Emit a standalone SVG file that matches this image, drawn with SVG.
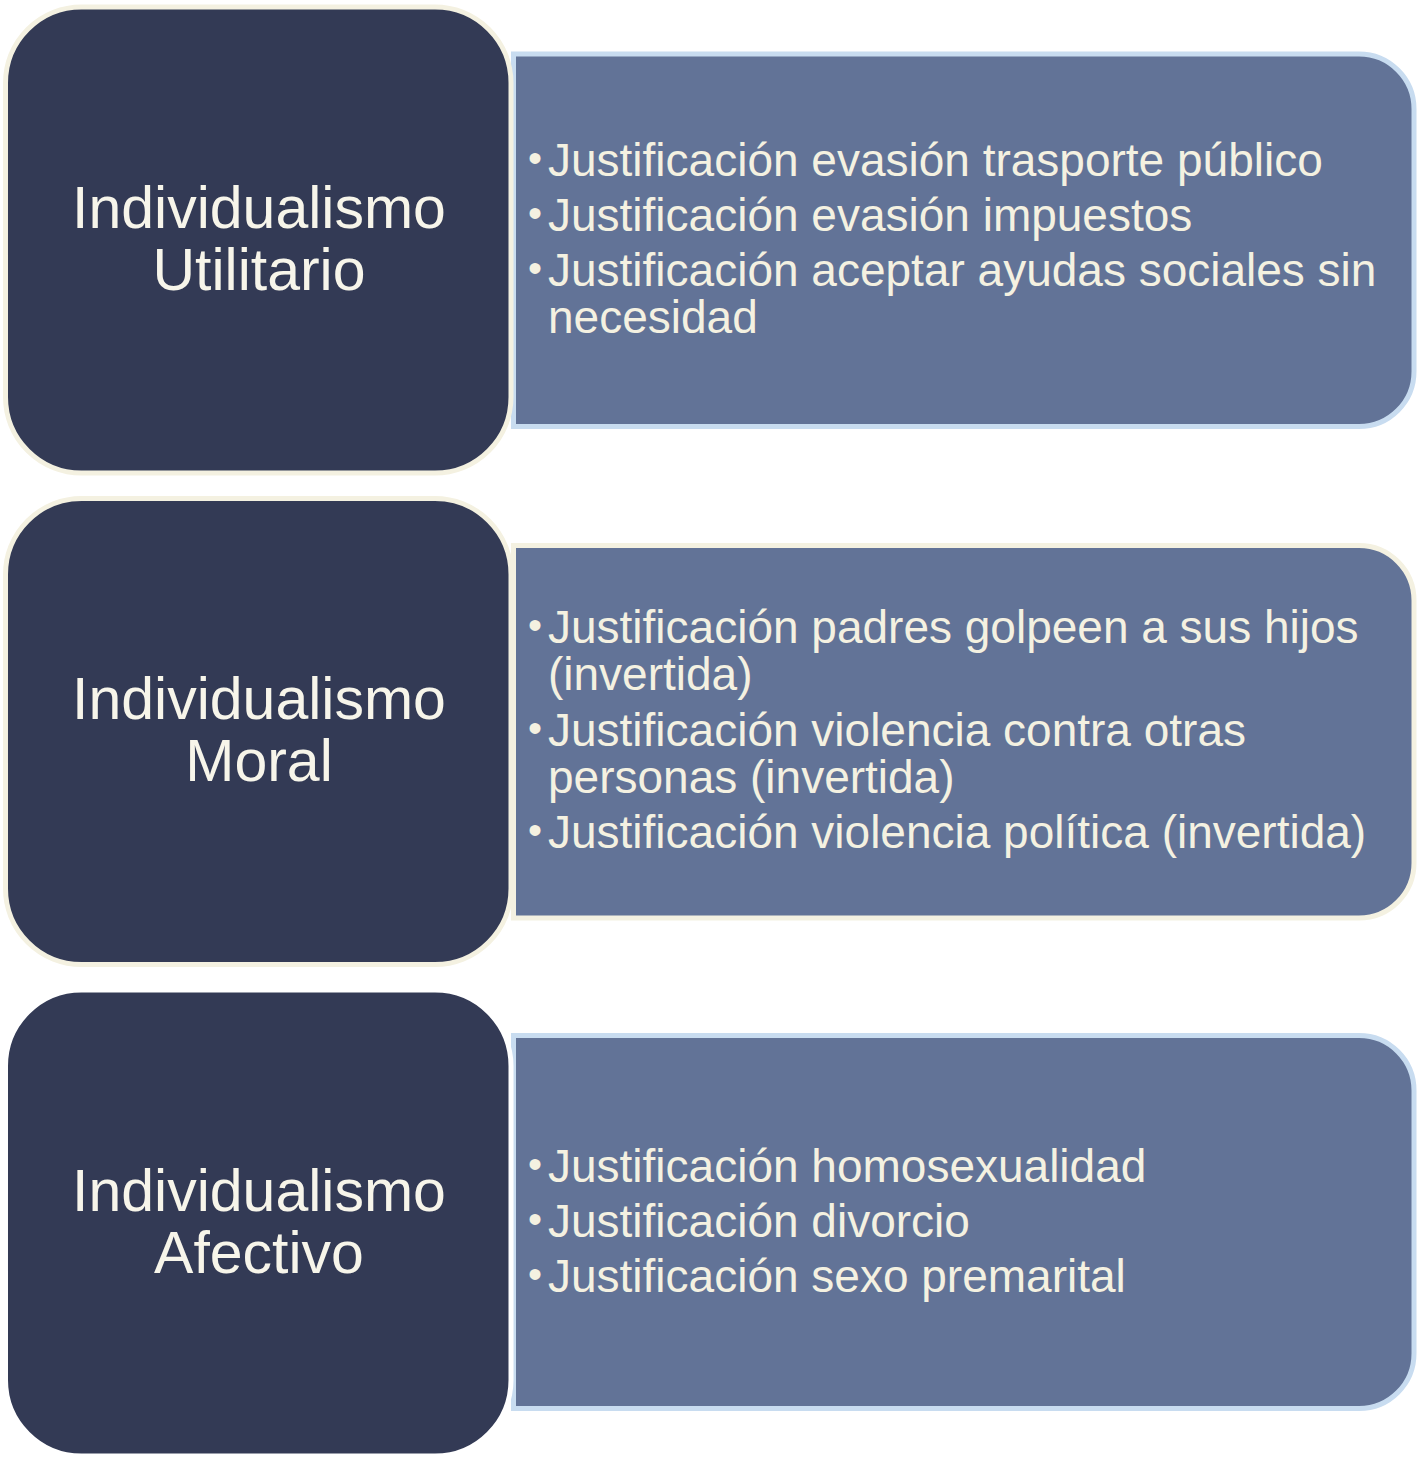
<svg xmlns="http://www.w3.org/2000/svg" width="1425" height="1466" viewBox="0 0 1425 1466">
<style>
.panel{fill:#627397;stroke-width:5}
.blue{stroke:#C8DCF0}
.cream{stroke:#F4F1E1}
.head{fill:#333A55;stroke-width:5}
.title{font-family:"Liberation Sans",Arial,sans-serif;font-size:59px;fill:#F7F5EA;text-anchor:middle}
.item{font-family:"Liberation Sans",Arial,sans-serif;font-size:46px;fill:#F4F1E1}
.bul{font-family:"Liberation Sans",Arial,sans-serif;font-size:40px;fill:#F4F1E1}
</style>
<rect width="1425" height="1466" fill="#FFFFFF"/>
<g id="connectors"></g>
<g id="panel1">
<path class="panel blue" d="M513.5,54 H1359 A55,55 0 0 1 1414,109 V371.5 A55,55 0 0 1 1359,426.5 H513.5 Z"/>
<text class="bul"><tspan x="528" y="172">•</tspan><tspan x="528" y="227">•</tspan><tspan x="528" y="282">•</tspan></text>
<text class="item"><tspan x="548" y="176">Justificación evasión trasporte público</tspan><tspan x="548" y="231">Justificación evasión impuestos</tspan><tspan x="548" y="286">Justificación aceptar ayudas sociales sin</tspan><tspan x="548" y="333">necesidad</tspan></text>
</g>
<g id="panel2">
<path class="panel cream" d="M513.5,545.5 H1359 A55,55 0 0 1 1414,600.5 V863 A55,55 0 0 1 1359,918 H513.5 Z"/>
<text class="bul"><tspan x="528" y="639">•</tspan><tspan x="528" y="742">•</tspan><tspan x="528" y="844">•</tspan></text>
<text class="item"><tspan x="548" y="643">Justificación padres golpeen a sus hijos</tspan><tspan x="548" y="690">(invertida)</tspan><tspan x="548" y="746">Justificación violencia contra otras</tspan><tspan x="548" y="793">personas (invertida)</tspan><tspan x="548" y="848">Justificación violencia política (invertida)</tspan></text>
</g>
<g id="panel3">
<path class="panel blue" d="M513.5,1035.5 H1359 A55,55 0 0 1 1414,1090.5 V1353.5 A55,55 0 0 1 1359,1408.5 H513.5 Z"/>
<text class="bul"><tspan x="528" y="1178">•</tspan><tspan x="528" y="1233">•</tspan><tspan x="528" y="1288">•</tspan></text>
<text class="item"><tspan x="548" y="1182">Justificación homosexualidad</tspan><tspan x="548" y="1237">Justificación divorcio</tspan><tspan x="548" y="1292">Justificación sexo premarital</tspan></text>
</g>
<g id="head1">
<rect class="head cream" x="5.5" y="7" width="505.5" height="466" rx="76" ry="76"/>
<text class="title"><tspan x="259" y="228">Individualismo</tspan><tspan x="259" y="290">Utilitario</tspan></text>
</g>
<g id="head2">
<rect class="head cream" x="5.5" y="498.5" width="505.5" height="466" rx="76" ry="76"/>
<text class="title"><tspan x="259" y="719">Individualismo</tspan><tspan x="259" y="781">Moral</tspan></text>
</g>
<g id="head3">
<rect class="head" stroke="#FFFFFF" x="5.5" y="990" width="505.5" height="466" rx="76" ry="76"/>
<text class="title"><tspan x="259" y="1211">Individualismo</tspan><tspan x="259" y="1273">Afectivo</tspan></text>
</g>
</svg>
